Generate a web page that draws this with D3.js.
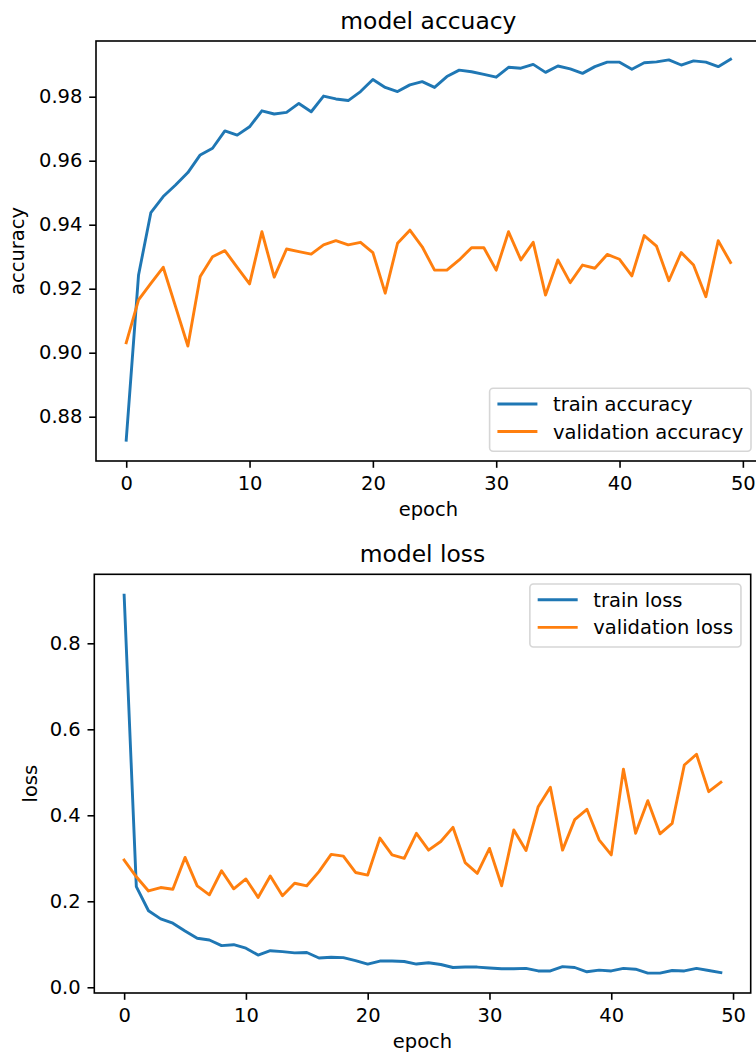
<!DOCTYPE html>
<html>
<head>
<meta charset="utf-8">
<script src="https://cdn.jsdelivr.net/npm/d3@7"></script>
<style>
  html, body { margin: 0; padding: 0; background: #ffffff; }
  svg { display: block; font-family: "DejaVu Sans", sans-serif; }
</style>
</head>
<body>
<svg id="fig" width="756" height="1053"></svg>
<script>
// Per-epoch training history (50 epochs)
const trainAccuracy = [
  0.8727, 0.9243, 0.9438, 0.9488, 0.9524, 0.9563, 0.9618, 0.9639, 0.9693, 0.9680,
  0.9706, 0.9756, 0.9746, 0.9751, 0.9779, 0.9753, 0.9802, 0.9793, 0.9788, 0.9816,
  0.9854, 0.9829, 0.9816, 0.9837, 0.9847, 0.9829, 0.9863, 0.9883, 0.9878, 0.9870,
  0.9861, 0.9892, 0.9889, 0.9901, 0.9876, 0.9896, 0.9887, 0.9873, 0.9894, 0.9908,
  0.9908, 0.9886, 0.9906, 0.9909, 0.9915, 0.9899, 0.9912, 0.9908, 0.9894, 0.9917
];
const validationAccuracy = [
  0.9031, 0.9165, 0.9217, 0.9267, 0.9144, 0.9021, 0.9238, 0.9300, 0.9319, 0.9267,
  0.9215, 0.9378, 0.9236, 0.9324, 0.9316, 0.9308, 0.9337, 0.9350, 0.9337, 0.9345,
  0.9313, 0.9186, 0.9342, 0.9383, 0.9331, 0.9258, 0.9258, 0.9290, 0.9328, 0.9328,
  0.9258, 0.9378, 0.9290, 0.9345, 0.9180, 0.9290, 0.9219, 0.9274, 0.9264, 0.9307,
  0.9292, 0.9240, 0.9366, 0.9333, 0.9225, 0.9313, 0.9274, 0.9175, 0.9350, 0.9282
];
const trainLoss = [
  0.912, 0.234, 0.178, 0.159, 0.149, 0.131, 0.114, 0.110, 0.097, 0.099,
  0.091, 0.075, 0.085, 0.083, 0.080, 0.081, 0.068, 0.070, 0.069, 0.062,
  0.054, 0.061, 0.061, 0.060, 0.054, 0.057, 0.053, 0.046, 0.047, 0.047,
  0.045, 0.043, 0.043, 0.044, 0.038, 0.038, 0.048, 0.046, 0.036, 0.040,
  0.038, 0.044, 0.042, 0.033, 0.033, 0.039, 0.038, 0.044, 0.039, 0.034
];
const validationLoss = [
  0.296, 0.257, 0.224, 0.232, 0.228, 0.302, 0.236, 0.215, 0.271, 0.229,
  0.252, 0.209, 0.259, 0.213, 0.242, 0.236, 0.269, 0.309, 0.305, 0.267,
  0.261, 0.347, 0.308, 0.300, 0.358, 0.319, 0.339, 0.372, 0.290, 0.265,
  0.323, 0.236, 0.366, 0.318, 0.420, 0.465, 0.319, 0.390, 0.414, 0.343,
  0.308, 0.507, 0.358, 0.434, 0.357, 0.381, 0.517, 0.542, 0.455, 0.477
];

// Axis ticks
const epochTicks = [0, 10, 20, 30, 40, 50];
const accuracyTicks = [0.88, 0.90, 0.92, 0.94, 0.96, 0.98];
const lossTicks = [0.0, 0.2, 0.4, 0.6, 0.8];

const BLUE = "#1f77b4";
const ORANGE = "#ff7f0e";
const TICK_FS = 19.5;
const TITLE_FS = 23.4;
const TICK_LEN = 6.8;
const SPINE_W = 1.6;
const LINE_W = 2.9;

const svg = d3.select("#fig");

function drawPanel(cfg) {
  const { box, xDomain, yDomain, yTicks, yFormat, series, title, xLabel, yLabel, yLabelX, legendPos } = cfg;
  const g = svg.append("g");

  const x = d3.scaleLinear().domain(xDomain).range([box.left, box.right]);
  const y = d3.scaleLinear().domain(yDomain).range([box.bottom, box.top]);

  // data lines
  const line = d3.line()
    .x((d, i) => x(i))
    .y(d => y(d));
  series.forEach(s => {
    g.append("path")
      .datum(s.values)
      .attr("d", line)
      .attr("fill", "none")
      .attr("stroke", s.color)
      .attr("stroke-width", LINE_W)
      .attr("stroke-linejoin", "round")
      .attr("stroke-linecap", "square");
  });

  // x axis
  const xAxis = d3.axisBottom(x)
    .tickValues(epochTicks)
    .tickFormat(d3.format("d"))
    .tickSizeInner(TICK_LEN)
    .tickSizeOuter(0)
    .tickPadding(8.5);
  const gx = g.append("g")
    .attr("transform", `translate(0,${box.bottom})`)
    .call(xAxis);
  gx.select(".domain").remove();
  gx.selectAll(".tick line").attr("stroke", "#000").attr("stroke-width", SPINE_W);
  gx.selectAll(".tick text")
    .attr("fill", "#000")
    .attr("font-size", TICK_FS)
    .attr("font-family", "DejaVu Sans");

  // y axis
  const yAxis = d3.axisLeft(y)
    .tickValues(yTicks)
    .tickFormat(yFormat)
    .tickSizeInner(TICK_LEN)
    .tickSizeOuter(0)
    .tickPadding(6.8);
  const gy = g.append("g")
    .attr("transform", `translate(${box.left},0)`)
    .call(yAxis);
  gy.select(".domain").remove();
  gy.selectAll(".tick line").attr("stroke", "#000").attr("stroke-width", SPINE_W);
  gy.selectAll(".tick text")
    .attr("fill", "#000")
    .attr("font-size", TICK_FS)
    .attr("font-family", "DejaVu Sans");

  // frame
  g.append("rect")
    .attr("x", box.left)
    .attr("y", box.top)
    .attr("width", box.right - box.left)
    .attr("height", box.bottom - box.top)
    .attr("fill", "none")
    .attr("stroke", "#000")
    .attr("stroke-width", SPINE_W);

  // title
  g.append("text")
    .attr("x", (box.left + box.right) / 2)
    .attr("y", box.top - 12)
    .attr("text-anchor", "middle")
    .attr("font-size", TITLE_FS)
    .attr("fill", "#000")
    .text(title);

  // axis labels
  g.append("text")
    .attr("x", (box.left + box.right) / 2)
    .attr("y", box.bottom + 55)
    .attr("text-anchor", "middle")
    .attr("font-size", TICK_FS)
    .attr("fill", "#000")
    .text(xLabel);

  const cy = (box.top + box.bottom) / 2;
  g.append("text")
    .attr("transform", `translate(${yLabelX},${cy}) rotate(-90)`)
    .attr("text-anchor", "middle")
    .attr("font-size", TICK_FS)
    .attr("fill", "#000")
    .text(yLabel);

  // legend
  const lg = g.append("g");
  const frame = lg.append("rect");
  const labels = series.map((s, i) =>
    lg.append("text")
      .attr("font-size", TICK_FS)
      .attr("fill", "#000")
      .text(s.label)
  );
  const textW = d3.max(labels, t => t.node().getComputedTextLength());
  const pad = 7.8, handleLen = 40, handleGap = 15.6;
  const lw = pad + handleLen + handleGap + textW + pad;
  const lh = 63;
  const rowOff = [15.7, 43.3];
  const right = box.right - 9.75;
  const lx = right - lw;
  const ly = legendPos === "lower right" ? box.bottom - 9.75 - lh : box.top + 9.75;

  frame
    .attr("x", lx).attr("y", ly)
    .attr("width", lw).attr("height", lh)
    .attr("rx", 3.5).attr("ry", 3.5)
    .attr("fill", "#ffffff").attr("fill-opacity", 0.8)
    .attr("stroke", "#cccccc").attr("stroke-opacity", 0.8)
    .attr("stroke-width", 1.6);

  series.forEach((s, i) => {
    const ry = ly + rowOff[i];
    lg.append("line")
      .attr("x1", lx + pad).attr("x2", lx + pad + handleLen)
      .attr("y1", ry).attr("y2", ry)
      .attr("stroke", s.color)
      .attr("stroke-width", LINE_W);
    labels[i]
      .attr("x", lx + pad + handleLen + handleGap)
      .attr("y", ry + 7);
  });
}

drawPanel({
  box: { left: 96, right: 760.75, top: 41, bottom: 461 },
  xDomain: [-2.45, 51.45],
  yDomain: [0.86616, 0.99741],
  yTicks: accuracyTicks,
  yFormat: d3.format(".2f"),
  series: [
    { values: trainAccuracy, color: BLUE, label: "train accuracy" },
    { values: validationAccuracy, color: ORANGE, label: "validation accuracy" }
  ],
  title: "model accuacy",
  xLabel: "epoch",
  yLabel: "accuracy",
  yLabelX: 24,
  legendPos: "lower right"
});

drawPanel({
  box: { left: 94.3, right: 750.7, top: 574.3, bottom: 993 },
  xDomain: [-2.45, 51.45],
  yDomain: [-0.0133, 0.9605],
  yTicks: lossTicks,
  yFormat: d3.format(".1f"),
  series: [
    { values: trainLoss, color: BLUE, label: "train loss" },
    { values: validationLoss, color: ORANGE, label: "validation loss" }
  ],
  title: "model loss",
  xLabel: "epoch",
  yLabel: "loss",
  yLabelX: 37,
  legendPos: "upper right"
});
</script>
</body>
</html>
